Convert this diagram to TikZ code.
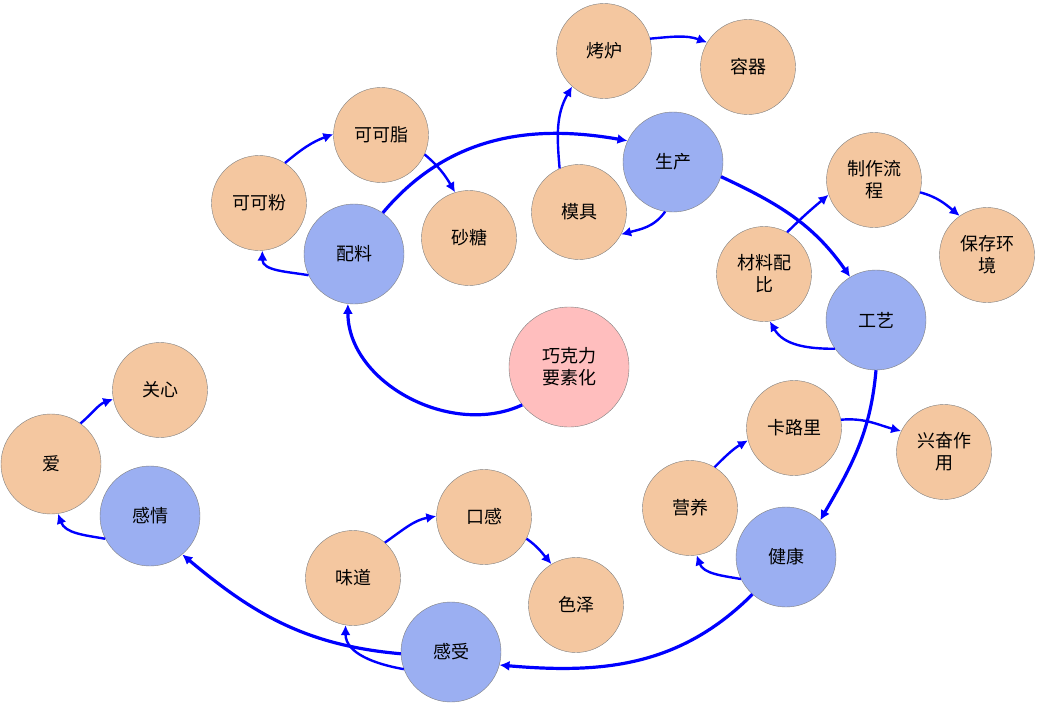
\documentclass[tikz,border=0pt]{standalone}
\usepackage{fontspec}
\setmainfont{Noto Sans CJK SC}
\usetikzlibrary{arrows.meta}
\definecolor{peach}{HTML}{F4C7A0}
\definecolor{lavblue}{HTML}{9BAFF2}
\definecolor{rosy}{HTML}{FFBEBE}

\begin{document}
\begin{tikzpicture}[x=1pt,y=1pt,
every node/.style={circle, draw=gray, fill=peach, minimum size=95pt,
    inner sep=0pt, align=center, font=\fontsize{18}{22}\selectfont
    },
hub/.style={fill=lavblue, minimum size=100pt},
core/.style={fill=rosy, minimum size=120pt},
link/.style={draw=blue, line width=2.4pt, -{Latex[length=10pt,width=10pt]}},
mainlink/.style={link, line width=3.2pt}
]
\useasboundingbox (0,0) rectangle (1038,-720);

\node[core] (root) at (569,-367) {巧克力\\要素化};
\node[hub] (mix) at (354,-254) {配料};
\node (cocoa) at (259,-203) {可可粉};
\node (butter) at (381,-135) {可可脂};
\node (sugar) at (469,-238) {砂糖};
\node[hub] (prod) at (673,-162) {生产};
\node (mold) at (579,-212) {模具};
\node (oven) at (604,-51) {烤炉};
\node (box) at (748,-67) {容器};
\node[hub] (craft) at (876,-320) {工艺};
\node (ratio) at (764,-274) {材料配\\比};
\node (flow) at (874,-180) {制作流\\程};
\node (keep) at (987,-255) {保存环\\境};
\node[hub] (health) at (786,-557) {健康};
\node (nutri) at (690,-508) {营养};
\node (cal) at (794,-428) {卡路里};
\node (excite) at (944,-452) {兴奋作\\用};
\node[hub] (feel) at (451,-652) {感受};
\node (taste) at (353,-578) {味道};
\node (mouth) at (484,-517) {口感};
\node (color) at (576,-605) {色泽};
\node[hub] (emo) at (150,-516) {感情};
\node[minimum size=100pt] (love) at (51,-464) {爱};
\node (care) at (160,-390) {关心};

% main ring
\foreach \i/\a/\j/\b/\o/\n in {
                   root/219/mix/263/205/-90,
                   mix/55/prod/155/50/170,
                   prod/-17/craft/121/-25/125,
                   craft/-90/health/47/-95/60,
                   health/228/feel/-15/225/-5,
                   feel/182/emo/-50/175/-40%
            }
    \draw [mainlink] (\i.\a) to[out=\o,in=\n] (\j.\b);

% branches
\foreach \i/\a/\j/\b/\o/\n in {
                   mix/205/cocoa/274/170/-90, cocoa/57/butter/179/40/200,
                   butter/-24/sugar/107/-40/120,
                   prod/261/mold/-28/235/15, mold/114/oven/228/95/240,
                   oven/15/box/149/5/160,
                   craft/215/ratio/-83/180/-60, ratio/61/flow/198/45/220,
                   flow/-15/keep/125/-15/140,
                   health/206/nutri/-82/170/-70, nutri/59/cal/195/45/210,
                   cal/10/excite/154/5/165,
                   feel/200/taste/-99/170/-90, taste/48/mouth/179/35/190,
                   mouth/-27/color/121/-35/130,
                   emo/207/love/-82/170/-70, love/54/care/191/40/200%
            }
    \draw [link] (\i.\a) to[out=\o,in=\n] (\j.\b);

\end{tikzpicture}
\end{document}
